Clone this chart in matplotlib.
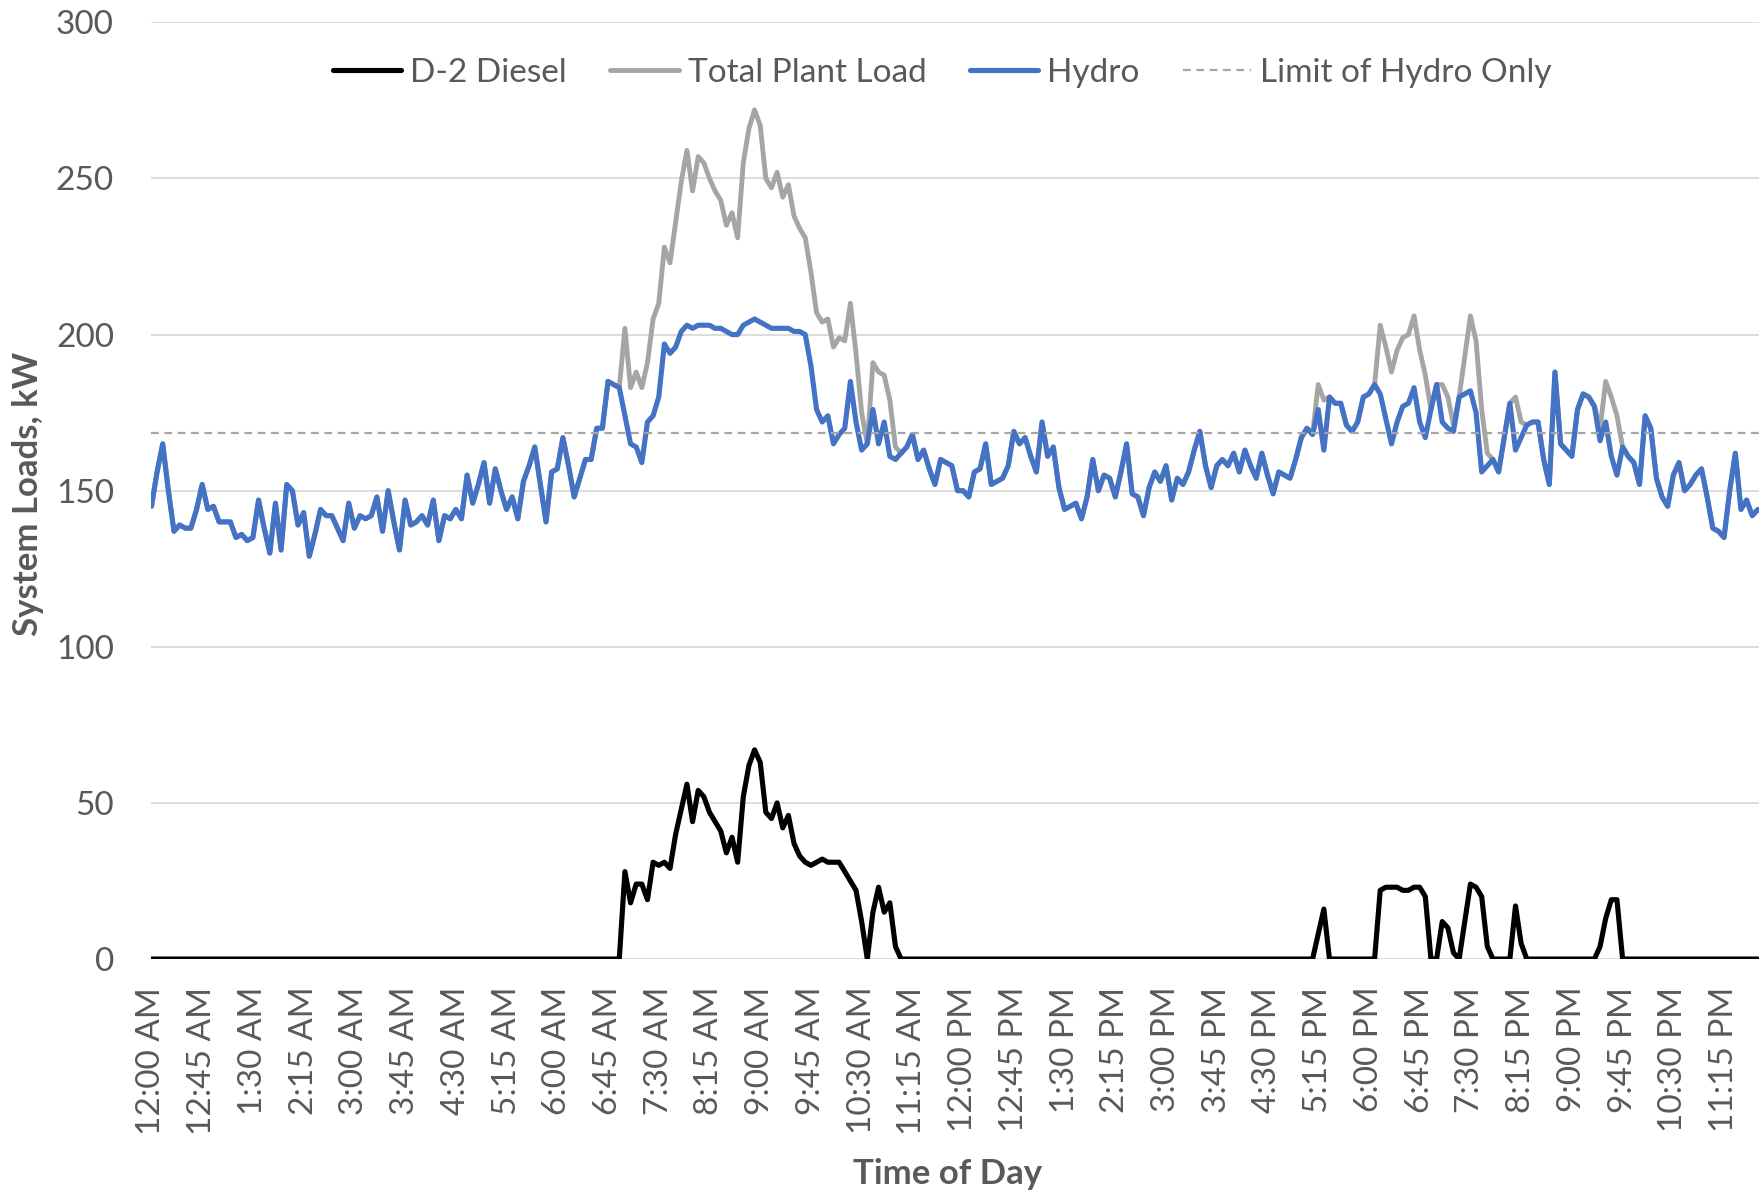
import matplotlib.pyplot as plt
import numpy as np

plt.rcParams['font.family'] = ['Lato', 'DejaVu Sans']

# 5-minute readings, kW (one row = one hour)
hydro = [
    145, 156, 165, 150, 137, 139, 138, 138, 144, 152, 144, 145,
    140, 140, 140, 135, 136, 134, 135, 147, 138, 130, 146, 131,
    152, 150, 139, 143, 129, 136, 144, 142, 142, 138, 134, 146,
    138, 142, 141, 142, 148, 137, 150, 140, 131, 147, 139, 140,
    142, 139, 147, 134, 142, 141, 144, 141, 155, 146, 152, 159,
    146, 157, 150, 144, 148, 141, 153, 158, 164, 152, 140, 156,
    157, 167, 158, 148, 154, 160, 160, 170, 170, 185, 184, 183,
    174, 165, 164, 159, 172, 174, 180, 197, 194, 196, 201, 203,
    202, 203, 203, 203, 202, 202, 201, 200, 200, 203, 204, 205,
    204, 203, 202, 202, 202, 202, 201, 201, 200, 190, 176, 172,
    174, 165, 168, 170, 185, 172, 163, 165, 176, 165, 172, 161,
    160, 162, 164, 168, 160, 163, 157, 152, 160, 159, 158, 150,
    150, 148, 156, 157, 165, 152, 153, 154, 158, 169, 165, 167,
    161, 156, 172, 161, 164, 151, 144, 145, 146, 141, 148, 160,
    150, 155, 154, 148, 156, 165, 149, 148, 142, 151, 156, 153,
    158, 147, 154, 152, 156, 163, 169, 158, 151, 158, 160, 158,
    162, 156, 163, 158, 154, 162, 155, 149, 156, 155, 154, 160,
    167, 170, 168, 176, 163, 180, 178, 178, 171, 169, 172, 180,
    181, 184, 181, 173, 165, 172, 177, 178, 183, 172, 167, 176,
    184, 172, 170, 169, 180, 181, 182, 175, 156, 158, 160, 156,
    167, 178, 163, 167, 171, 172, 172, 160, 152, 188, 165, 163,
    161, 176, 181, 180, 177, 166, 172, 161, 155, 164, 161, 159,
    152, 174, 170, 154, 148, 145, 155, 159, 150, 152, 155, 157,
    148, 138, 137, 135, 150, 162, 144, 147, 142, 144, 143,
]

diesel = [
    0, 0, 0, 0, 0, 0, 0, 0, 0, 0, 0, 0,
    0, 0, 0, 0, 0, 0, 0, 0, 0, 0, 0, 0,
    0, 0, 0, 0, 0, 0, 0, 0, 0, 0, 0, 0,
    0, 0, 0, 0, 0, 0, 0, 0, 0, 0, 0, 0,
    0, 0, 0, 0, 0, 0, 0, 0, 0, 0, 0, 0,
    0, 0, 0, 0, 0, 0, 0, 0, 0, 0, 0, 0,
    0, 0, 0, 0, 0, 0, 0, 0, 0, 0, 0, 0,
    28, 18, 24, 24, 19, 31, 30, 31, 29, 40, 48, 56,
    44, 54, 52, 47, 44, 41, 34, 39, 31, 52, 62, 67,
    63, 47, 45, 50, 42, 46, 37, 33, 31, 30, 31, 32,
    31, 31, 31, 28, 25, 22, 12, 0, 15, 23, 15, 18,
    4, 0, 0, 0, 0, 0, 0, 0, 0, 0, 0, 0,
    0, 0, 0, 0, 0, 0, 0, 0, 0, 0, 0, 0,
    0, 0, 0, 0, 0, 0, 0, 0, 0, 0, 0, 0,
    0, 0, 0, 0, 0, 0, 0, 0, 0, 0, 0, 0,
    0, 0, 0, 0, 0, 0, 0, 0, 0, 0, 0, 0,
    0, 0, 0, 0, 0, 0, 0, 0, 0, 0, 0, 0,
    0, 0, 0, 8, 16, 0, 0, 0, 0, 0, 0, 0,
    0, 0, 22, 23, 23, 23, 22, 22, 23, 23, 20, 0,
    0, 12, 10, 2, 0, 12, 24, 23, 20, 4, 0, 0,
    0, 0, 17, 5, 0, 0, 0, 0, 0, 0, 0, 0,
    0, 0, 0, 0, 0, 4, 13, 19, 19, 0, 0, 0,
    0, 0, 0, 0, 0, 0, 0, 0, 0, 0, 0, 0,
    0, 0, 0, 0, 0, 0, 0, 0, 0, 0, 0,
]

total_load = [
    145, 156, 165, 150, 137, 139, 138, 138, 144, 152, 144, 145,
    140, 140, 140, 135, 136, 134, 135, 147, 138, 130, 146, 131,
    152, 150, 139, 143, 129, 136, 144, 142, 142, 138, 134, 146,
    138, 142, 141, 142, 148, 137, 150, 140, 131, 147, 139, 140,
    142, 139, 147, 134, 142, 141, 144, 141, 155, 146, 152, 159,
    146, 157, 150, 144, 148, 141, 153, 158, 164, 152, 140, 156,
    157, 167, 158, 148, 154, 160, 160, 170, 170, 185, 184, 183,
    202, 183, 188, 183, 191, 205, 210, 228, 223, 236, 249, 259,
    246, 257, 255, 250, 246, 243, 235, 239, 231, 255, 266, 272,
    267, 250, 247, 252, 244, 248, 238, 234, 231, 220, 207, 204,
    205, 196, 199, 198, 210, 194, 175, 165, 191, 188, 187, 179,
    164, 162, 164, 168, 160, 163, 157, 152, 160, 159, 158, 150,
    150, 148, 156, 157, 165, 152, 153, 154, 158, 169, 165, 167,
    161, 156, 172, 161, 164, 151, 144, 145, 146, 141, 148, 160,
    150, 155, 154, 148, 156, 165, 149, 148, 142, 151, 156, 153,
    158, 147, 154, 152, 156, 163, 169, 158, 151, 158, 160, 158,
    162, 156, 163, 158, 154, 162, 155, 149, 156, 155, 154, 160,
    167, 170, 168, 184, 179, 180, 178, 178, 171, 169, 172, 180,
    181, 184, 203, 196, 188, 195, 199, 200, 206, 195, 187, 176,
    184, 184, 180, 171, 180, 193, 206, 198, 176, 162, 160, 156,
    167, 178, 180, 172, 171, 172, 172, 160, 152, 188, 165, 163,
    161, 176, 181, 180, 177, 170, 185, 180, 174, 164, 161, 159,
    152, 174, 170, 154, 148, 145, 155, 159, 150, 152, 155, 157,
    148, 138, 137, 135, 150, 162, 144, 147, 142, 144, 143,
]

hydro_limit = 168.5

time_labels = [
    "12:00 AM", "12:45 AM", "1:30 AM", "2:15 AM", "3:00 AM", "3:45 AM",
    "4:30 AM", "5:15 AM", "6:00 AM", "6:45 AM", "7:30 AM", "8:15 AM",
    "9:00 AM", "9:45 AM", "10:30 AM", "11:15 AM", "12:00 PM", "12:45 PM",
    "1:30 PM", "2:15 PM", "3:00 PM", "3:45 PM", "4:30 PM", "5:15 PM",
    "6:00 PM", "6:45 PM", "7:30 PM", "8:15 PM", "9:00 PM", "9:45 PM",
    "10:30 PM", "11:15 PM",
]
label_step = 9  # one label every 45 min

text_color = '#595959'
x = np.arange(len(hydro))

fig = plt.figure(figsize=(17.59, 11.90), dpi=100)
ax = fig.add_axes([0.0861, 0.1941, 0.9139, 0.7871])

line_kw = dict(solid_joinstyle='round', solid_capstyle='round')
ax.plot(x, diesel, color='black', lw=3.7, label='D-2 Diesel', zorder=3, **line_kw)
ax.plot(x, total_load, color='#A5A5A5', lw=3.5, label='Total Plant Load', zorder=3, **line_kw)
ax.plot(x, hydro, color='#4472C4', lw=3.7, label='Hydro', zorder=4, **line_kw)
ax.axhline(hydro_limit, color='#A5A5A5', lw=1.6, ls=(0, (3.5, 2.5)),
           label='Limit of Hydro Only', zorder=5)

ax.set_xlim(0, 285.2)
ax.set_ylim(0, 300)
ax.set_yticks(range(0, 301, 50))
ax.set_xticks(np.arange(0, len(time_labels) * label_step, label_step))
ax.set_xticklabels(time_labels, rotation=90)
ax.yaxis.grid(True, color='#D9D9D9', lw=1.3)
ax.set_axisbelow(True)
for s in ax.spines.values():
    s.set_visible(False)
ax.tick_params(axis='both', length=0, labelsize=24, labelcolor=text_color)
ax.tick_params(axis='x', pad=20)
ax.tick_params(axis='y', pad=27)

fig.text(28 / 1759, 1 - 494 / 1190, "System Loads, kW", rotation=90, ha='center',
         va='center', fontsize=25, fontweight='bold', color=text_color)
fig.text(948 / 1759, 1 - 1174 / 1190, "Time of Day", ha='center', va='center',
         fontsize=25, fontweight='bold', color=text_color)

leg = fig.legend(loc='center', bbox_to_anchor=(0.5357, 0.9387), ncol=4, frameon=False,
                 fontsize=24, handlelength=2.05, handletextpad=0.27, columnspacing=1.3)
for t in leg.get_texts():
    t.set_color(text_color)

fig.savefig('out.png', dpi=100)
